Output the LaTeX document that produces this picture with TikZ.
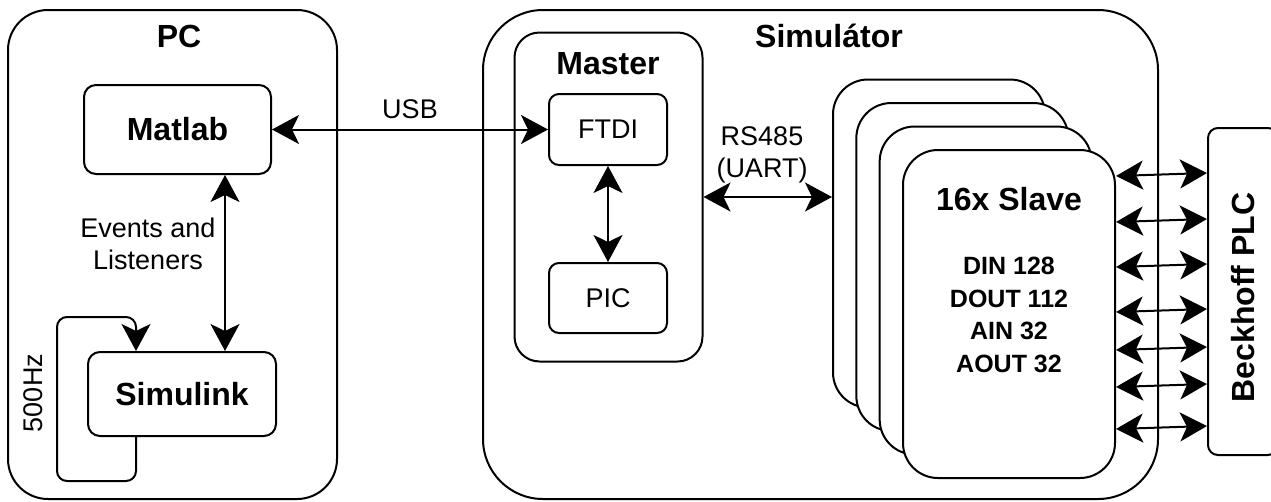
\documentclass[tikz,border=0pt]{standalone}
\usepackage{fontspec}
\setmainfont{Liberation Sans}
\usetikzlibrary{arrows.meta}
\newcommand{\bigfont}{\fontsize{32}{38}\selectfont\bfseries}
\newcommand{\midfont}{\fontsize{27}{32}\selectfont}
\newcommand{\listfont}{\fontsize{25}{32.7}\selectfont\bfseries}
\tikzset{
    >={Stealth[length=27pt, width=29pt, inset=7pt]},
    box/.style={draw, line width=2pt, fill=white, rounded corners=#1},
    box/.default=12pt,
    conn/.style={line width=2pt, <->},
}

\begin{document}
\begin{tikzpicture}[x=1pt, y=-1pt]
            \useasboundingbox (0, 0) rectangle (1271, 501);
            % PC
            \node[box=40pt, minimum width=329pt, minimum height=489pt](pc) at (172.5, 254.5){};
            \node[font=\bigfont, anchor=base] at (179, 47){PC};
            \node[box, minimum width=187pt, minimum height=89pt, font=\bigfont](mat) at (177.5, 129.5){Matlab};
            \node[box, minimum width=188pt, minimum height=84pt, font=\bigfont](simu) at (182, 394){Simulink};
            \draw[conn]([xshift=47.5pt]mat.south)--([xshift=47.5pt]mat.south |- simu.north);
            \node[font=\midfont, align=center] at (148, 244){Events and\\Listeners};
            \draw[line width=2pt, rounded corners=10pt, ->]([xshift=-46pt]simu.south)--++(0, 44)-|(57, 317)-|([xshift=-46pt]simu.north);
            \node[font=\midfont, rotate=90] at (33, 393){500Hz};
            % Simulator
            \node[box=60pt, minimum width=675pt, minimum height=489pt](sim) at (820.5, 254.5){};
            \node[font=\bigfont, anchor=base] at (829, 47){Simulátor};
            \node[box=25pt, minimum width=188pt, minimum height=329pt](master) at (608.5, 197){};
            \node[font=\bigfont, anchor=base] at (608, 74){Master};
            \node[box=10pt, minimum width=118pt, minimum height=71pt, font=\midfont](ftdi) at (608, 129.5){FTDI};
            \node[box=10pt, minimum width=118pt, minimum height=70pt, font=\midfont](pic) at (608, 298){PIC};
            \draw[conn](ftdi)--(pic);
            \draw[conn](mat.east)--(ftdi.west)node[midway, above=6pt, font=\midfont]{USB};
            \foreach \i/\c in {1/0, 2/1, 3/2, 4/3}
                \node[box=35pt, minimum width=212pt, minimum height=328pt](s\i) at (939+23.33*\c, 243.5+23.5*\c){};
            \draw[conn](master.east)--(master.east -| s1.west);
            \node[font=\midfont, align=center] at (762, 155){RS485\\(UART)};
            \node[font=\bigfont, anchor=base] at (1009, 210){16x Slave};
            \node[font=\listfont, align=center] at (1009, 315){DIN 128\\DOUT 112\\AIN 32\\AOUT 32};
            % PLC
            \node[box=10pt, minimum width=70pt, minimum height=327pt](plc) at (1243, 291.5){};
            \node[font=\bigfont, rotate=90] at ([yshift=-6pt]plc.center){Beckhoff PLC};
            \foreach \dy in {27, 73, 118, 163, 201, 238, 280}{
                \coordinate (a) at ([yshift=-\dy pt]s4.north east);
                \draw[conn](a)--([yshift=3pt]a -| plc.west);
            }
        \end{tikzpicture}
\end{document}
